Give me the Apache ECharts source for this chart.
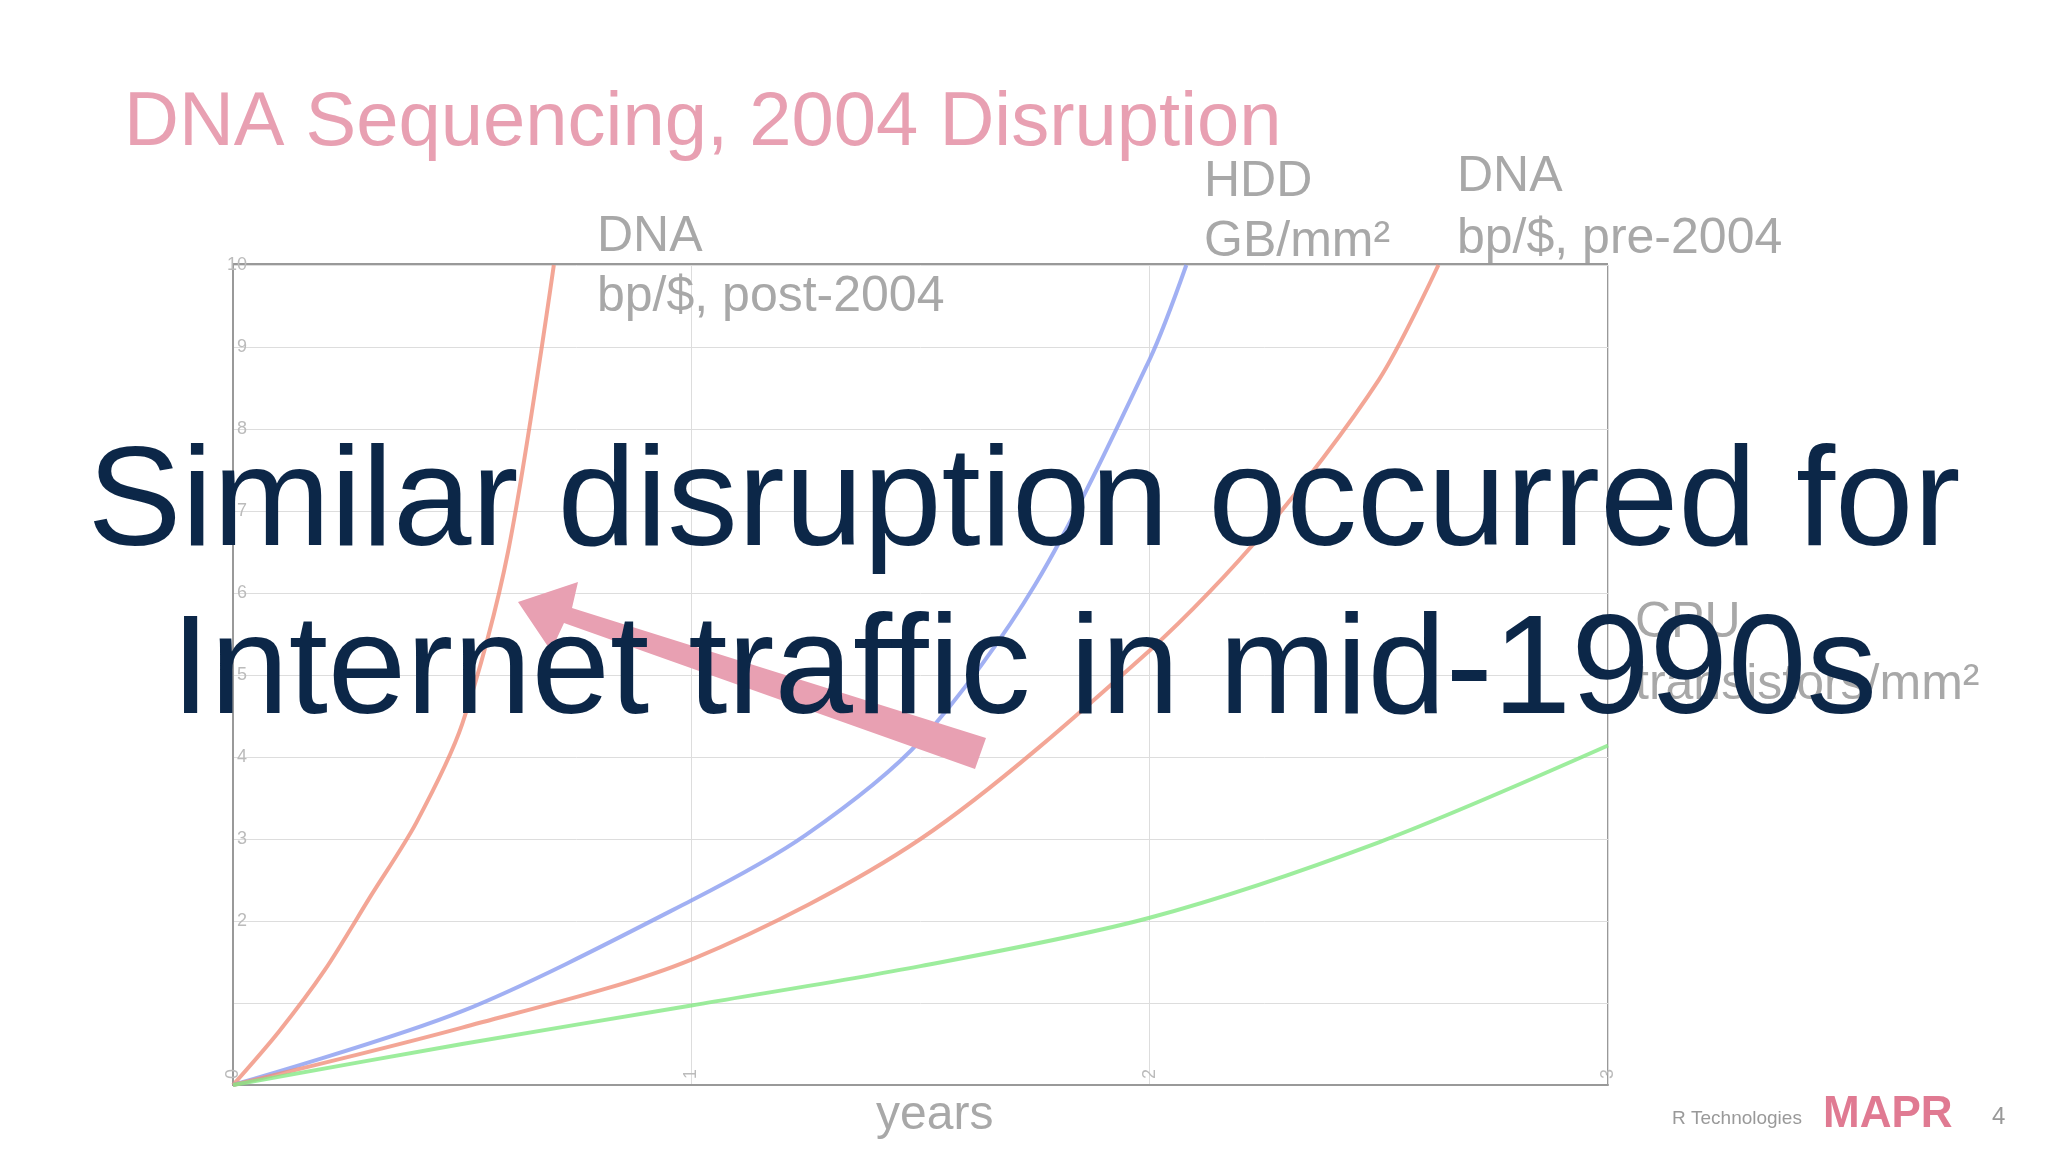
<!DOCTYPE html>
<html>
<head>
<meta charset="utf-8">
<script src="https://cdn.jsdelivr.net/npm/echarts@6/dist/echarts.min.js"></script>
<style>html,body{margin:0;padding:0;background:#fff}#chart{width:2048px;height:1152px}</style>
</head>
<body>
<div id="chart"></div>
<script>
// curves, [year, value]
var dnaPost = [[0,0],[0.1,0.65],[0.2,1.4],[0.3,2.3],[0.4,3.2],[0.5,4.4],[0.6,6.5],[0.7,10]]
var hdd = [[0,0],[0.5,0.9],[1,2.25],[1.25,3.05],[1.5,4.2],[1.75,6.1],[2,8.85],[2.08,10]]
var dnaPre = [[0,0],[0.5,0.7],[1,1.53],[1.5,3.0],[2,5.3],[2.25,6.75],[2.5,8.6],[2.63,10]]
var cpu = [[0,0],[0.5,0.5],[1,0.97],[1.5,1.45],[2,2.04],[2.5,2.96],[3,4.14]]

var chart = echarts.init(document.getElementById('chart'))
var grey = '#a8a8a8'
var line = function (data, color) {
    return {type: 'line', data: data, smooth: 0.3, symbol: 'none', clip: true,
        lineStyle: {color: color, width: 4, opacity: 0.8}}
}
var label = function (x, y, text, size, color) {
    return {type: 'text', left: x, top: y, z: 10,
        style: {text: text, fontSize: size, fill: color, fontFamily: 'Liberation Sans, Arial'}}
}
chart.setOption({
    animation: false,
    grid: {left: 233, right: 440, top: 265, bottom: 67},
    xAxis: {type: 'value', min: 0, max: 3, interval: 1,
        axisLine: {lineStyle: {color: '#999', width: 2}}, axisTick: {show: false},
        axisLabel: {color: '#bbb', fontSize: 18, margin: -16, rotate: 90},
        splitLine: {show: true, lineStyle: {color: '#ddd'}}},
    yAxis: {type: 'value', min: 0, max: 10, interval: 1,
        axisLine: {show: true, lineStyle: {color: '#999', width: 2}}, axisTick: {show: false},
        axisLabel: {color: '#bbb', fontSize: 18, margin: -14,
            formatter: function (v) { return v == 0 || v == 1 ? '' : v }},
        splitLine: {lineStyle: {color: '#ddd'}}},
    series: [line(dnaPost, '#f0907c'), line(hdd, '#8a9cf0'), line(dnaPre, '#f0907c'), line(cpu, '#84e884')],
    graphic: [
        {type: 'rect', shape: {x: 1608, y: 265, width: 0, height: 820}, style: {stroke: '#999', lineWidth: 2}},
        {type: 'rect', shape: {x: 233, y: 264, width: 1375, height: 0}, style: {stroke: '#999', lineWidth: 2}},
        label(124, 86, 'DNA Sequencing, 2004 Disruption', 76, '#e8a0b2'),
        label(597, 212, 'DNA', 50, grey),
        label(597, 272, 'bp/$, post-2004', 50, grey),
        label(1204, 157, 'HDD', 50, grey),
        label(1204, 217, 'GB/mm²', 50, grey),
        label(1457, 152, 'DNA', 50, grey),
        label(1457, 214, 'bp/$, pre-2004', 50, grey),
        label(1635, 598, 'CPU', 50, grey),
        label(1635, 660, 'transistors/mm²', 50, grey),
        {type: 'polygon', z: 11, shape: {points: [[986,738],[975,769],[564,623],[551,651],[518,602],[578,582],[572,608]]},
            style: {fill: '#e8a0b2'}},
        {type: 'text', left: 'center', top: 436, z: 12,
            style: {text: 'Similar disruption occurred for', fontSize: 141, fill: '#0c2748', fontFamily: 'Liberation Sans, Arial'}},
        {type: 'text', left: 'center', top: 604, z: 12,
            style: {text: 'Internet traffic in mid-1990s', fontSize: 141, fill: '#0c2748', fontFamily: 'Liberation Sans, Arial'}},
        {type: 'text', left: 876, top: 1092, style: {text: 'years', fontSize: 48, fill: grey, fontFamily: 'Liberation Sans, Arial'}},
        label(1672, 1109, 'R Technologies', 19, '#999'),
        {type: 'text', left: 1823, top: 1093, style: {text: 'MAPR', fontSize: 44, fill: '#e07a92', fontFamily: 'Liberation Sans, Arial', fontWeight: 'bold'}},
        label(1992, 1105, '4', 24, '#999')
    ]
})
</script>
</body>
</html>
